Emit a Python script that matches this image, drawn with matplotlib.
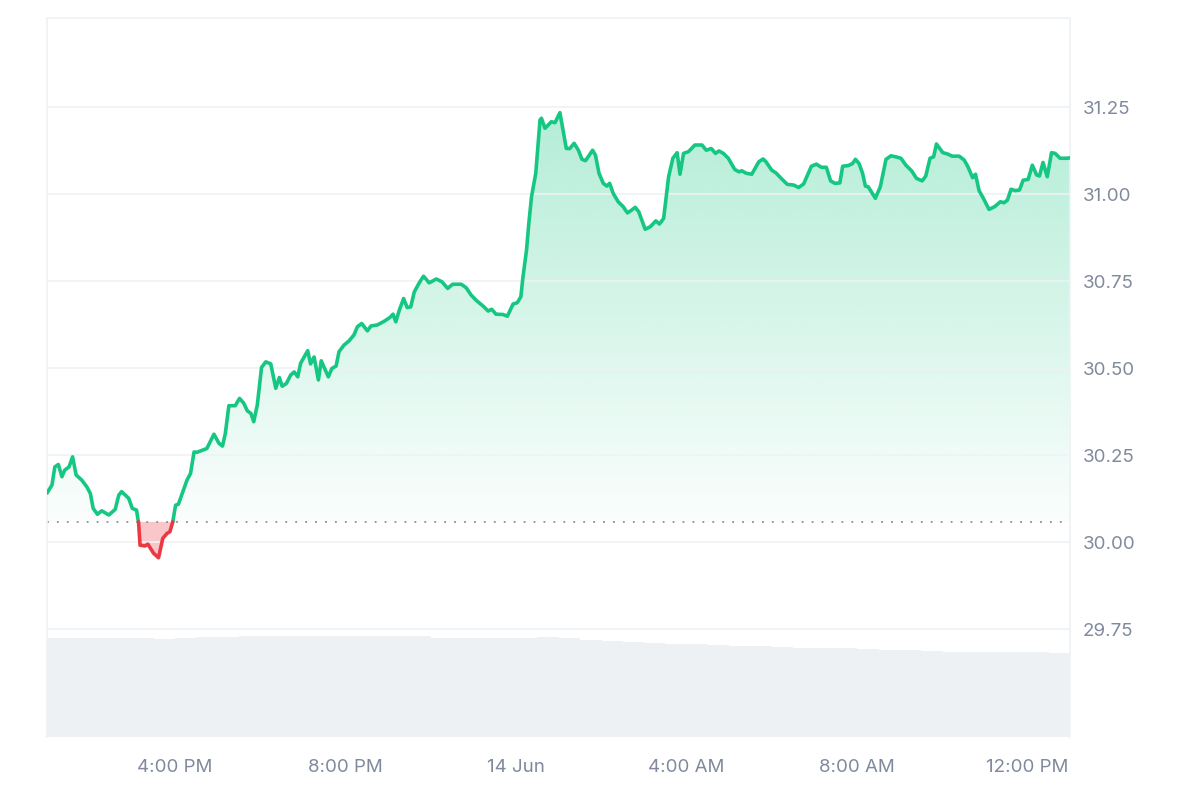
import numpy as np
import matplotlib
matplotlib.use("Agg")
import matplotlib.pyplot as plt
from matplotlib.colors import to_rgb

# ---------------- data ----------------
# minutes after 13 Jun 13:00
minutes = [0, 7, 11, 16, 21, 25, 31, 36, 41, 49, 56, 61, 65, 71, 77, 87, 96, 101, 105, 115,
           120, 126, 129, 131, 138, 142, 150, 157, 163, 169, 173, 177, 181, 185, 197, 202, 207,
           211, 225, 235, 242, 247, 251, 256, 265, 271, 277, 282, 287, 291, 296, 302, 308, 315,
           322, 327, 331, 337, 343, 348, 353, 357, 367, 371, 376, 382, 386, 396, 401, 407, 411,
           418, 425, 432, 437, 443, 451, 456, 465, 475, 483, 487, 491, 496, 502, 507, 512, 517,
           524, 530, 538, 548, 556, 564, 571, 583, 590, 597, 604, 614, 621, 626, 632, 642, 648,
           651, 656, 662, 667, 670, 675, 678, 682, 688, 694, 696, 701, 710, 715, 722, 731, 736,
           742, 748, 753, 758, 768, 772, 777, 783, 788, 792, 797, 804, 811, 817, 823, 828, 833,
           842, 849, 857, 862, 868, 875, 881, 887, 891, 896, 903, 912, 922, 928, 935, 941, 946,
           952, 959, 968, 974, 978, 984, 992, 1002, 1008, 1012, 1020, 1026, 1035, 1042, 1051,
           1058, 1065, 1076, 1083, 1090, 1097, 1103, 1109, 1116, 1120, 1128, 1134, 1138, 1143,
           1148, 1152, 1156, 1166, 1173, 1181, 1188, 1195, 1202, 1209, 1217, 1224, 1232, 1237,
           1243, 1248, 1252, 1261, 1268, 1274, 1284, 1291, 1296, 1303, 1307, 1312, 1318, 1326,
           1334, 1342, 1347, 1352, 1357, 1363, 1369, 1374, 1381, 1387, 1393, 1397, 1402, 1408,
           1414, 1419, 1426, 1435, 1440]
prices = [30.141, 30.164, 30.216, 30.223, 30.188, 30.207, 30.216, 30.245, 30.193, 30.178,
          30.159, 30.140, 30.097, 30.080, 30.090, 30.078, 30.094, 30.135, 30.145, 30.126,
          30.097, 30.092, 30.054, 29.991, 29.989, 29.994, 29.968, 29.955, 30.011, 30.025,
          30.030, 30.058, 30.106, 30.109, 30.178, 30.197, 30.259, 30.258, 30.269, 30.310,
          30.284, 30.276, 30.312, 30.392, 30.392, 30.413, 30.399, 30.377, 30.370, 30.346,
          30.394, 30.502, 30.518, 30.512, 30.442, 30.473, 30.448, 30.456, 30.480, 30.489,
          30.475, 30.514, 30.550, 30.512, 30.532, 30.466, 30.521, 30.475, 30.499, 30.506,
          30.547, 30.566, 30.578, 30.595, 30.619, 30.628, 30.607, 30.621, 30.624, 30.635,
          30.646, 30.655, 30.633, 30.667, 30.700, 30.674, 30.676, 30.719, 30.745, 30.764,
          30.745, 30.756, 30.748, 30.729, 30.741, 30.741, 30.731, 30.710, 30.695, 30.678,
          30.664, 30.669, 30.655, 30.654, 30.649, 30.662, 30.684, 30.688, 30.705, 30.762,
          30.839, 30.911, 30.992, 31.060, 31.213, 31.218, 31.189, 31.208, 31.205, 31.234,
          31.131, 31.131, 31.146, 31.126, 31.100, 31.096, 31.126, 31.112, 31.060, 31.031,
          31.023, 31.031, 31.002, 30.978, 30.964, 30.946, 30.954, 30.962, 30.949, 30.899,
          30.906, 30.923, 30.914, 30.930, 31.050, 31.103, 31.119, 31.057, 31.117, 31.122,
          31.141, 31.141, 31.126, 31.131, 31.117, 31.124, 31.117, 31.103, 31.071, 31.064,
          31.067, 31.060, 31.057, 31.093, 31.101, 31.093, 31.069, 31.061, 31.042, 31.028,
          31.026, 31.019, 31.029, 31.080, 31.086, 31.077, 31.077, 31.038, 31.031, 31.032,
          31.080, 31.082, 31.088, 31.100, 31.088, 31.060, 31.023, 31.021, 30.988, 31.021,
          31.100, 31.110, 31.107, 31.103, 31.083, 31.067, 31.045, 31.038, 31.052, 31.103,
          31.107, 31.144, 31.119, 31.115, 31.109, 31.109, 31.098, 31.080, 31.047, 31.057,
          31.010, 30.988, 30.956, 30.964, 30.978, 30.975, 30.983, 31.014, 31.010, 31.012,
          31.040, 31.042, 31.083, 31.055, 31.052, 31.091, 31.050, 31.119, 31.117, 31.103,
          31.103, 31.104]
open_price = 30.058

# half-hour volume buckets (relative units)
volume_minutes = list(range(0, 1440, 30))
volumes = [98.7, 98.7, 98.7, 98.7, 98.7, 98.0, 99.0, 100.0, 100.0, 101.0,
           101.0, 101.0, 101.0, 101.0, 101.0, 101.0, 101.0, 101.0, 99.0, 99.0,
           99.0, 99.0, 99.0, 100.5, 99.5, 97.0, 96.0, 95.0, 94.0, 93.0,
           93.0, 92.0, 91.0, 91.0, 90.0, 89.0, 89.0, 89.0, 88.0, 87.0,
           87.0, 86.0, 85.0, 85.0, 85.0, 85.0, 85.0, 84.0]

xtick_minutes = [180, 420, 660, 900, 1140, 1380]
xtick_labels = ["4:00 PM", "8:00 PM", "14 Jun", "4:00 AM", "8:00 AM", "12:00 PM"]
ytick_values = [29.75, 30.00, 30.25, 30.50, 30.75, 31.00, 31.25]

GREEN = "#16c784"
RED = "#ea3943"
GRID = "#eff2f5"
TXT = "#808a9d"

plt.rcParams["font.family"] = ["Inter", "DejaVu Sans"]

fig = plt.figure(figsize=(12, 8), dpi=100)
ax = fig.add_axes([47 / 1200, 63 / 800, (1070 - 47) / 1200, (737 - 18) / 800])
ax2 = ax.twinx()
ax.set_zorder(ax2.get_zorder() + 1)
ax.patch.set_visible(False)

YMIN, YMAX = 29.44, 31.506
XMIN, XMAX = 0, 1440

# volume bars
ax2.bar(volume_minutes, volumes, width=30.6, align="edge", color="#eef1f4",
        linewidth=0, antialiased=False)
ax2.set_ylim(0, 719)
ax2.set_xlim(XMIN, XMAX)
ax2.axis("off")

# insert baseline crossings
t = np.asarray(minutes, float)
p = np.asarray(prices, float)
tt, pp = [t[0]], [p[0]]
for i in range(1, len(t)):
    a, b = p[i - 1] - open_price, p[i] - open_price
    if a * b < 0:
        tc = t[i - 1] + (t[i] - t[i - 1]) * a / (a - b)
        tt.append(tc)
        pp.append(open_price)
    tt.append(t[i])
    pp.append(p[i])
tt = np.array(tt)
pp = np.array(pp)

# green gradient fill
up = np.maximum(pp, open_price)
poly_up = ax.fill_between(tt, open_price, up, facecolor="none", edgecolor="none")
g = np.array(to_rgb(GREEN))
n = 256
alphas = np.linspace(0.02, 0.34, n)
img = np.zeros((n, 2, 4))
img[:, :, :3] = g
img[:, :, 3] = alphas[:, None]
im = ax.imshow(img, extent=[XMIN, XMAX, open_price, 31.30], origin="lower",
               aspect="auto", interpolation="bilinear", zorder=1)
im.set_clip_path(poly_up.get_paths()[0], transform=ax.transData)

# red fill
dn = np.minimum(pp, open_price)
ax.fill_between(tt, dn, open_price, facecolor=RED, alpha=0.28, edgecolor="none", zorder=1)

# line split into green/red
above = np.where(pp >= open_price - 1e-9, pp, np.nan)
below = np.where(pp <= open_price + 1e-9, pp, np.nan)
ax.plot(tt, above, color=GREEN, lw=2.6, zorder=3, solid_joinstyle="round", solid_capstyle="round")
ax.plot(tt, below, color=RED, lw=2.6, zorder=3, solid_joinstyle="round", solid_capstyle="round")

# baseline
ax.axhline(open_price, color="#8c8f99", lw=1.3, ls=(0, (1, 4.5)), zorder=2)

ax.set_xlim(XMIN, XMAX)
ax.set_ylim(YMIN, YMAX)
ax.set_yticks(ytick_values)
ax.set_yticklabels([f"{v:.2f}" for v in ytick_values])
ax.set_xticks(xtick_minutes)
ax.set_xticklabels(xtick_labels)
ax.yaxis.tick_right()
ax.tick_params(axis="y", length=0, pad=9, labelsize=13.5, labelcolor=TXT)
ax.tick_params(axis="x", length=0, pad=16, labelsize=13.5, labelcolor=TXT)
ax.grid(axis="y", color=GRID, lw=1.2, zorder=0)
ax.grid(axis="x", visible=False)
for side in ["left", "right", "top", "bottom"]:
    ax.spines[side].set_color(GRID)
    ax.spines[side].set_linewidth(1.2)
ax.spines["bottom"].set_visible(False)

fig.savefig("out.png", dpi=100, facecolor="white")
